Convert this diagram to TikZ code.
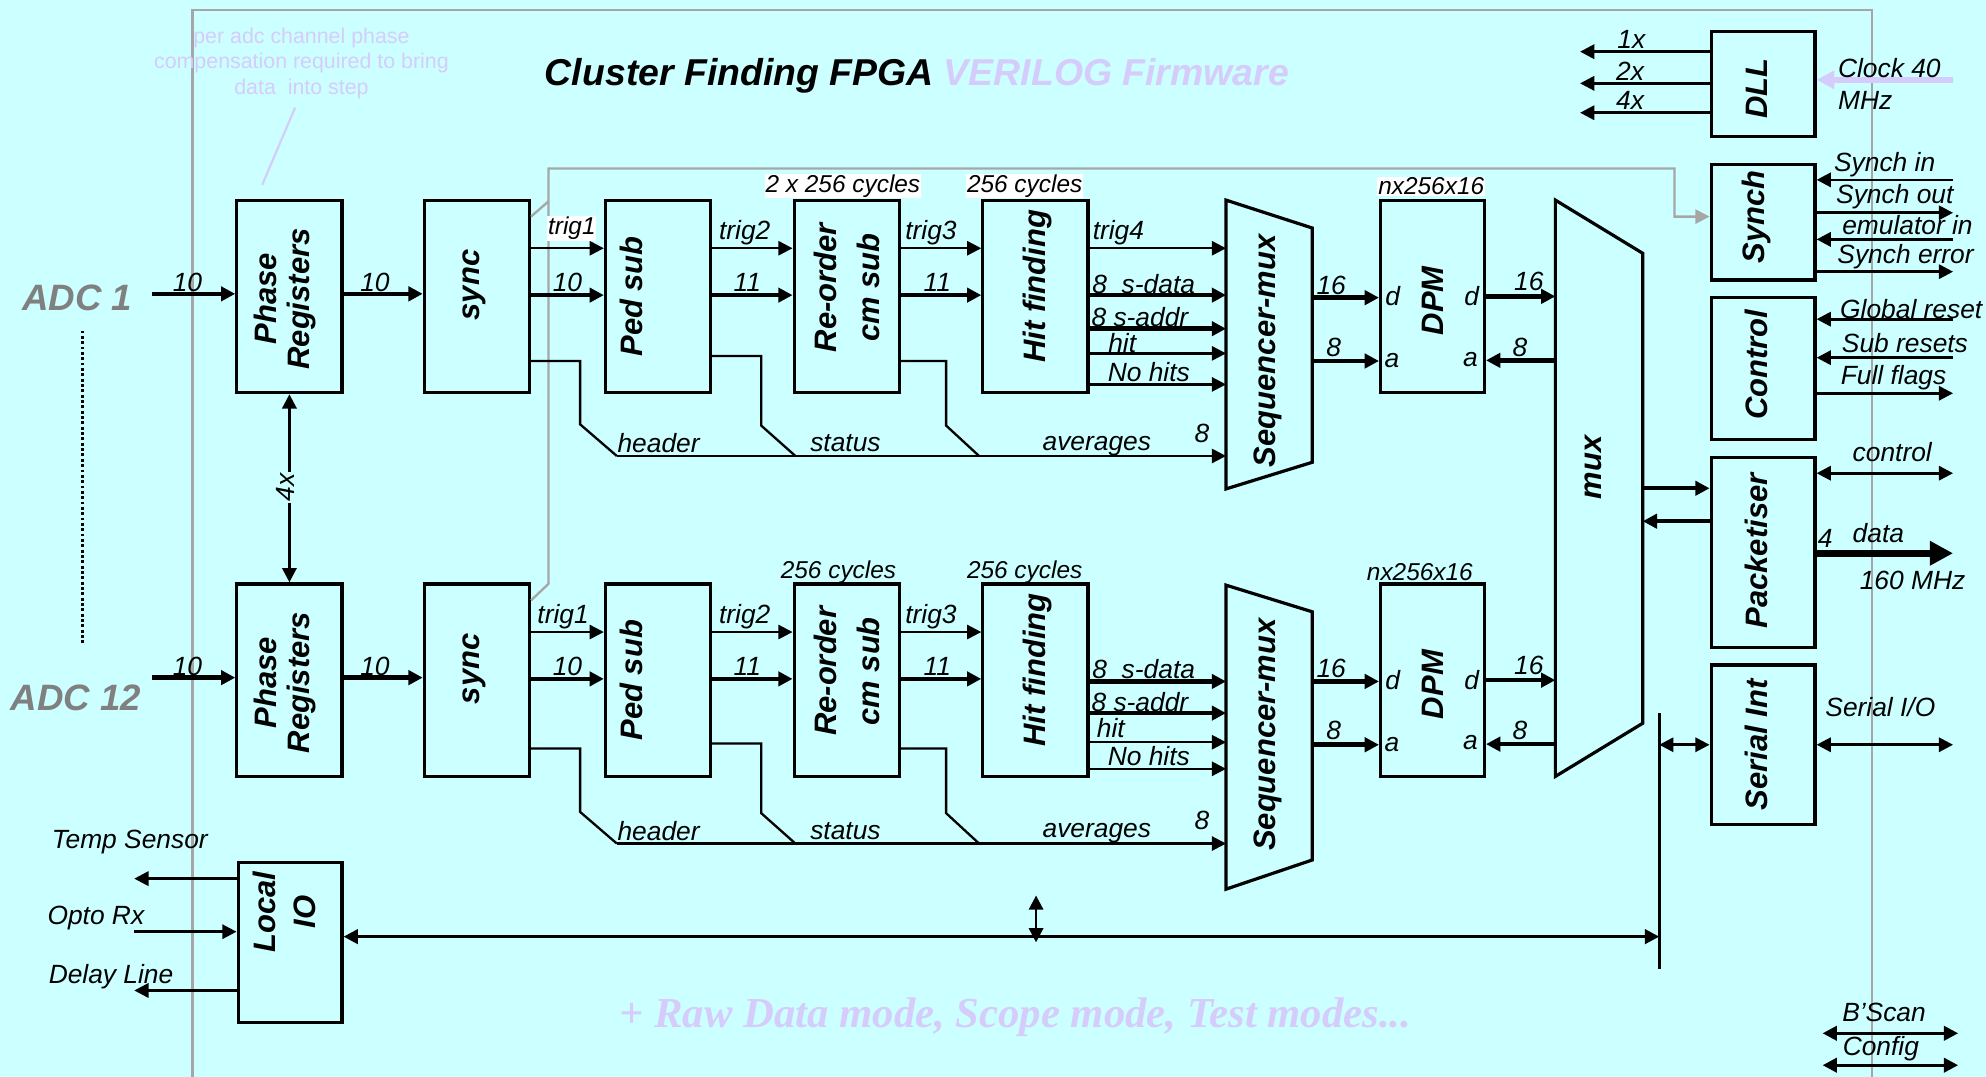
\documentclass[tikz,border=0pt]{standalone}
\usepackage{fontspec}
\setmainfont{Liberation Sans}
\newfontfamily\rawfont{Liberation Serif}
\usetikzlibrary{arrows.meta,positioning,fit}

\definecolor{bgcyan}{RGB}{204,255,255}
\definecolor{lilac}{RGB}{214,204,252}
\definecolor{framegray}{RGB}{166,166,166}
\definecolor{adcgray}{RGB}{128,128,128}

\tikzset{
    >={Triangle[length=8pt,width=8pt]},
    every node/.style={font=\fontsize{14.8}{17}\selectfont\itshape, inner sep=1pt},
    blk/.style={draw, line width=1.8pt, inner sep=0pt},
    blklbl/.style={rotate=90, align=center, font=\fontsize{17.4}{19}\selectfont\bfseries\itshape},
    sig/.style={line width=1.3pt, ->},
    bus/.style={line width=2.6pt, ->},
    io/.style={line width=1.5pt},
    sigin/.style={<-},
    sigout/.style={->},
    sigboth/.style={<->},
    cyc/.style={font=\fontsize{13.7}{16}\selectfont\itshape},
    cycbox/.style={cyc, fill=white, inner sep=0.5pt},
    graywire/.style={framegray, line width=1.3pt},
}

\begin{document}
\begin{tikzpicture}[x=0.025cm, y=-0.025cm]
    \useasboundingbox (0,0) rectangle (1568,850);
    \fill[bgcyan] (0,0) rectangle (1568,850);

    % Frame
    \draw[graywire] (152,850) -- (152,8) -- (1478,8) -- (1478,850);

    % Title and notes
    \node[anchor=west, inner sep=0pt, font=\fontsize{21}{24}\selectfont\bfseries\itshape] (title) at (430,60)
        {Cluster Finding FPGA \textcolor{lilac}{VERILOG Firmware}};
    \node[lilac, align=center, font=\fontsize{12}{14.2}\selectfont] (note) at (238,50)
        {per adc channel phase\\compensation required to bring\\data~ into step};
    \coordinate (notea) at (233,85);
    \coordinate (noteb) at (207,146);
    \draw[lilac, line width=1.2pt] (notea) -- (noteb);
    \node[lilac, anchor=base, font=\fontsize{24}{27}\selectfont\rawfont\bfseries\itshape] (modes) at (801.5,811)
        {+ Raw Data mode, Scope mode, Test modes...};

    % ADC inputs
    \node[adcgray, font=\fontsize{20.6}{24}\selectfont\bfseries\itshape] (adc1) at (61,235) {ADC 1};
    \node[adcgray, font=\fontsize{20.6}{24}\selectfont\bfseries\itshape] (adc12) at (60,551) {ADC 12};
    \coordinate (dotsa) at (65,261);
    \coordinate (dotsb) at (65,509);
    \draw[line width=1.6pt, dash pattern=on 1.6pt off 1.4pt] (dotsa) -- (dotsb);

    % Channel blocks
    \foreach \r/\dy in {1/0,2/303} {
        \node[blk, fit={(187,158+\dy) (270,310+\dy)}] (phase\r) {};
        \node[blk, fit={(335,158+\dy) (418,310+\dy)}] (sync\r) {};
        \node[blk, fit={(478,158+\dy) (561,310+\dy)}] (ped\r) {};
        \node[blk, fit={(627,158+\dy) (710,310+\dy)}] (reord\r) {};
        \node[blk, fit={(776,158+\dy) (859,310+\dy)}] (hit\r) {};
        \node[blk, fit={(1090,158+\dy) (1172,310+\dy)}] (dpm\r) {};
        \node[blklbl] (phasetxt\r) at (225,236+\dy) {Phase\\Registers};
        \node[blklbl] (synctxt\r) at (374.5,225+\dy) {sync};
        \node[blklbl] (pedtxt\r) at (498.5,234+\dy) {Ped sub};
        \node[blklbl, font=\fontsize{17.4}{24}\selectfont\bfseries\itshape] (reordtxt\r) at (668.5,227+\dy) {Re-order\\cm sub};
        \node[blklbl] (hittxt\r) at (819.5,226+\dy) {Hit finding};
        \node[blklbl] (dpmtxt\r) at (1131.5,237.5+\dy) {DPM};
    }

    % Sequencer-mux and output mux
    \foreach \r/\ya/\yb/\yc/\yd/\yt in {1/158/180/365/386/277, 2/462/483/679/702/580} {
        \draw[blk] (968,\ya) coordinate (sqnw\r) -- (1036,\yb) -- (1036,\yc) coordinate (sqse\r) -- (968,\yd) -- cycle;
        \node[blklbl] (seqtxt\r) at (1001,\yt) {Sequencer-mux};
    }
    \draw[blk] (1228,158) coordinate (muxnw) -- (1297,200) -- (1297,571) coordinate (muxse) -- (1228,613) -- cycle;
    \node[blklbl] (muxtxt) at (1258,369) {mux};

    % Right hand blocks
    \foreach \nm/\ya/\yb/\yt/\v in {dll/25/108/69.7/DLL, synch/130/221/171/Synch, ctrl/235/347/288/Control,
            pack/361/511/435/Packetiser, serint/525/651/588/Serial Int} {
        \node[blk, fit={(1351,\ya) (1433,\yb)}] (\nm) {};
        \node[blklbl] (\nm-txt) at (1387,\yt) {\v};
    }

    % Synch wire
    \coordinate (synchup) at (433,133);
    \coordinate (synchdn) at (1322,133);
    \draw[graywire, ->] (sync2.east |- 0,474) -- (433,461) -- (synchup) -- (synchdn) |- (synch.west |- 0,171);
    \draw[graywire] (sync1.east |- 0,171) -- (433,159);

    % Phase clock
    \draw[io, <->] (phase1.south) -- (phase2.north);
    \node[fill=bgcyan, rotate=90] (fourx) at (225,385) {4x};

    % Data path
    \foreach \r/\dy in {1/0,2/303} {
        \coordinate (in\r) at (120,232+\dy);
        \draw[bus] (in\r) -- (phase\r.west |- in\r);
        \foreach \a/\b/\y/\s in {phase/sync/232/bus, sync/ped/196/sig, sync/ped/233/bus,
                ped/reord/196/sig, ped/reord/233/bus, reord/hit/196/sig, reord/hit/233/bus} {
            \draw[\s] (\a\r.east |- 0,\y+\dy) -- (\b\r.west |- 0,\y+\dy);
        }
        \foreach \x/\y/\v [count=\k] in {148/223/10, 296/223/10, 448/223/10, 588/184/trig2,
                590/223/11, 735/184/trig3, 740/223/11} {
            \node (lbl\r-\k) at (\x,\y+\dy) {\v};
        }
        % DPM ports
        \draw[bus] (sqse\r |- 0,235+\dy) -- (dpm\r.west |- 0,235+\dy);
        \draw[bus] (sqse\r |- 0,285+\dy) -- (dpm\r.west |- 0,285+\dy);
        \draw[bus] (dpm\r.east |- 0,234+\dy) -- (muxnw |- 0,234+\dy);
        \draw[bus] (muxnw |- 0,284.5+\dy) -- (dpm\r.east |- 0,284.5+\dy);
        \foreach \x/\y/\v [count=\k] in {1051/225/16, 1053/274/8, 1207/222/16, 1200/274/8,
                1099.5/234/d, 1099/285/a, 1162/234/d, 1161/283.5/a} {
            \node (port\r-\k) at (\x,\y+\dy) {\v};
        }
    }
    \node[cycbox] (trig1a) at (451.5,180.5) {trig1};
    \node (trig1b) at (444.6,487) {trig1};

    % Hit finding to sequencer
    \foreach \r/\y/\s in {1/196/sig, 1/233/bus, 1/259.5/bus, 1/279/sig, 1/303.5/sig,
            2/538/bus, 2/563/bus, 2/586/sig, 2/607/sig} {
        \draw[\s] (hit\r.east |- 0,\y) -- (sqnw\r |- 0,\y);
    }
    \foreach \x/\y/\v [count=\k] in {883/184/trig4, 903/224/8~ s-data, 900/250/8 s-addr, 886/271/hit,
            907/294/No hits, 903/528/8~ s-data, 900/554/8 s-addr, 877/575/hit, 907/597/No hits} {
        \node (hitlbl\k) at (\x,\y) {\v};
    }

    % Header, status and averages
    \foreach \r/\db in {1/0,2/306} {
        \draw[line width=1.3pt] (sync\r.east |- 0,285+\db) -| (458,335+\db) -- (487,360+\db);
        \draw[line width=1.3pt] (ped\r.east |- 0,281+\db) -| (601,336+\db) -- (628,360+\db);
        \draw[line width=1.3pt] (reord\r.east |- 0,285+\db) -| (747,336+\db) -- (773,360+\db);
        \coordinate (hdr\r) at (487,360+\db);
        \draw[sig] (hdr\r) -- (sqnw\r |- hdr\r);
        \foreach \x/\y/\v [count=\k] in {520/350/header, 667.5/350/status, 866/352/averages, 949/342/8} {
            \node (buslbl\r-\k) at (\x,\y+\db) {\v};
        }
    }

    % Cycle counts
    \node[cycbox] (cyc1a) at (665.5,147) {2 x 256 cycles};
    \node[cycbox] (cyc1b) at (809,147) {256 cycles};
    \node[cycbox] (mem1) at (1130,147) {nx256x16};
    \node[cyc] (cyc2a) at (662,452) {256 cycles};
    \node[cyc] (cyc2b) at (809,452) {256 cycles};
    \node[cyc] (mem2) at (1121,452) {nx256x16};

    % Mux to packetiser
    \draw[line width=2.2pt, ->] (muxse |- 0,385.5) -- (pack.west |- 0,385.5);
    \draw[line width=2.2pt, ->] (pack.west |- 0,411.5) -- (muxse |- 0,411.5);

    % DLL
    \foreach \nm/\y in {clka/40.8, clkb/65.8, clkc/89} {
        \coordinate (\nm) at (1247.5,\y);
        \draw[io, ->] (dll.west |- \nm) -- (\nm);
    }
    \coordinate (clkin) at (1542,63);
    \draw[lilac, line width=3.4pt, -{Triangle[length=10pt,width=10pt]}] (clkin) -- (dll.east |- clkin);

    % Right hand signals
    \foreach \nm/\y in {sin/142, sout/168, emu/189, serr/214.5, grst/252, srst/282.4, fflg/310.5,
            ctl/373.6, dat/436.8, ser/588} {
        \coordinate (\nm) at (1542,\y);
    }
    \foreach \b/\nm/\s in {synch/sin/sigin, synch/sout/sigout, synch/emu/sigin, synch/serr/sigout,
            ctrl/grst/sigin, ctrl/srst/sigin, ctrl/fflg/sigout, pack/ctl/sigboth, serint/ser/sigboth} {
        \draw[io, \s] (\b.east |- \nm) -- (\nm);
    }
    \draw[line width=4.1pt, -{Triangle[length=13pt,width=13pt]}] (pack.east |- dat) -- (dat);
    \foreach \x/\y/\v [count=\k] in {1288/31.5/1x, 1287/56.5/2x, 1287/79.5/4x,
            1488/130/Synch in, 1496/155/Synch out, 1506/178/emulator in, 1504.5/203/Synch error,
            1509/244/Global reset, 1504/271/Sub resets, 1495/298.5/Full flags,
            1494/357/control, 1441/425/4, 1483/421/data, 1510/458.6/160 MHz} {
        \node (sidelbl\k) at (\x,\y) {\v};
    }
    \node (serlbl) at (1484.6,558) {Serial I/O};
    \node[anchor=west] (clklbla) at (1449.5,53.5) {Clock 40};
    \node[anchor=west] (clklblb) at (1449.5,79) {MHz};

    % Local IO and bus
    \node[blk, fit={(188,681) (270,807)}] (localio) {};
    \node[blklbl, font=\fontsize{17.4}{22}\selectfont\bfseries\itshape] (localiotxt) at (224.5,720) {Local\\IO};
    \coordinate (bartop) at (1310,563);
    \coordinate (barbot) at (1310,765);
    \draw[line width=1.8pt] (bartop) -- (barbot);
    \coordinate (lbus) at (818,739.5);
    \draw[line width=1.8pt, <->] (localio.east |- lbus) -- (bartop |- lbus);
    \coordinate (vtop) at (818,707);
    \coordinate (vbot) at (818,744);
    \draw[io, <->] (vtop) -- (vbot);
    \draw[io, <->] (bartop |- ser) -- (serint.west |- ser);
    \foreach \nm/\y in {temp/693.7, opto/735.6, dly/782} {
        \coordinate (\nm) at (106,\y);
    }
    \draw[io, ->] (localio.west |- temp) -- (temp);
    \draw[io, ->] (opto) -- (localio.west |- opto);
    \draw[io, ->] (localio.west |- dly) -- (dly);
    \node (templbl) at (102.5,665) {Temp Sensor};
    \node (optolbl) at (75.7,725) {Opto Rx};
    \node (dlylbl) at (87.7,771) {Delay Line};

    % Boundary scan
    \foreach \nm/\y in {bscan/815.8, cfg/841} {
        \coordinate (\nm-a) at (1439,\y);
        \coordinate (\nm-b) at (1546,\y);
        \draw[line width=1.8pt, <->] (\nm-a) -- (\nm-b);
    }
    \node (bscanlbl) at (1487.5,799) {B'Scan};
    \node (cfglbl) at (1485,828) {Config};
\end{tikzpicture}
\end{document}
